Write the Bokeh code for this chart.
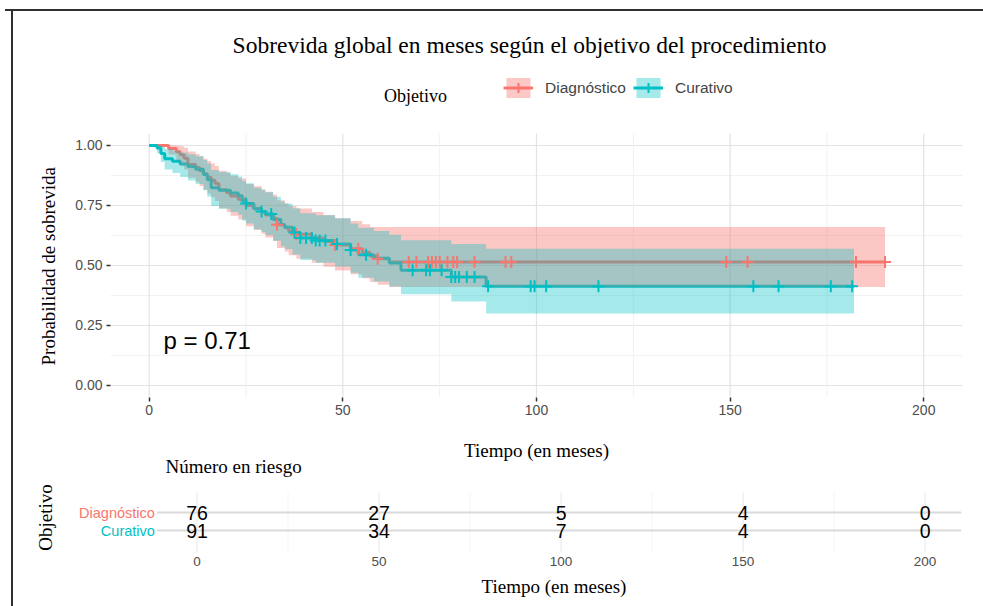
import numpy as np
from bokeh.plotting import figure
from bokeh.models import (Range1d, FixedTicker, PrintfTickFormatter, Label,
                          Legend, LegendItem, Title)
from bokeh.layouts import column
from bokeh.embed import file_html
from bokeh.resources import INLINE
from bokeh.core.properties import value

# ---------------- data ----------------
groups = ["Diagnóstico", "Curativo"]

# Diagnóstico: Kaplan-Meier step times / survival / 95% CI
time_diag = [0, 5, 7, 8, 9, 10, 12, 13, 14, 15, 16, 17, 18, 20, 21, 23, 25, 27, 29, 30,
             32, 33, 35, 36, 38, 42, 45, 48, 52, 55, 57, 59, 62]
surv_diag = [1.0, 0.987, 0.974, 0.961, 0.947, 0.921, 0.908, 0.895, 0.882, 0.868,
             0.855, 0.842, 0.816, 0.803, 0.789, 0.776, 0.750, 0.737, 0.723, 0.710,
             0.697, 0.670, 0.657, 0.643, 0.630, 0.615, 0.600, 0.585, 0.570, 0.555,
             0.540, 0.528, 0.515]
upper_diag = [1.0, 1.0, 1.0, 0.997, 0.99, 0.975, 0.965, 0.955, 0.945, 0.935,
              0.925, 0.915, 0.895, 0.885, 0.873, 0.862, 0.84, 0.83, 0.818, 0.807,
              0.795, 0.772, 0.76, 0.748, 0.737, 0.723, 0.71, 0.697, 0.685, 0.672,
              0.66, 0.66, 0.66]
lower_diag = [1.0, 0.962, 0.937, 0.918, 0.9, 0.866, 0.848, 0.831, 0.816, 0.8,
              0.784, 0.769, 0.738, 0.723, 0.707, 0.692, 0.663, 0.648, 0.632, 0.617,
              0.602, 0.573, 0.558, 0.543, 0.528, 0.511, 0.495, 0.479, 0.463, 0.447,
              0.431, 0.42, 0.41]
end_diag = 190
censor_diag = [33, 38, 48, 54, 59, 67, 69, 72, 73, 74, 75, 77, 78.5, 79.5, 84, 92,
               93.5, 149, 154.5, 182.5, 190]

# Curativo
time_cur = [0, 2, 3, 4, 6, 8, 10, 12, 14, 15, 16, 18, 21, 23, 24, 25, 27, 29, 30, 32,
            34, 35, 37, 39, 43, 48, 52, 54, 58, 62, 65, 78, 87]
surv_cur = [1.0, 0.989, 0.967, 0.945, 0.934, 0.923, 0.912, 0.901, 0.879, 0.857,
            0.824, 0.813, 0.802, 0.791, 0.769, 0.758, 0.736, 0.725, 0.714, 0.692,
            0.670, 0.659, 0.637, 0.615, 0.604, 0.590, 0.565, 0.545, 0.530, 0.510,
            0.480, 0.452, 0.413]
upper_cur = [1.0, 1.0, 0.995, 0.985, 0.978, 0.971, 0.963, 0.955, 0.94, 0.925,
             0.898, 0.889, 0.88, 0.871, 0.852, 0.843, 0.824, 0.815, 0.805, 0.786,
             0.767, 0.757, 0.738, 0.718, 0.709, 0.697, 0.675, 0.657, 0.644, 0.628,
             0.605, 0.59, 0.57]
lower_cur = [1.0, 0.968, 0.931, 0.9, 0.885, 0.869, 0.854, 0.84, 0.813, 0.787,
             0.748, 0.736, 0.723, 0.711, 0.687, 0.675, 0.651, 0.639, 0.627, 0.603,
             0.58, 0.569, 0.546, 0.523, 0.511, 0.496, 0.47, 0.449, 0.433, 0.412,
             0.38, 0.35, 0.30]
end_cur = 182
censor_cur = [25, 29, 31.5, 37.5, 39, 40.5, 42, 43, 44, 45.5, 48.5, 52, 56, 68, 71.5,
              72.5, 75.5, 78, 79, 80, 82, 84, 87.5, 98.5, 99.5, 102.5, 116, 156, 162.5,
              176, 181.5]

# number at risk table
risk_times = [0, 50, 100, 150, 200]
risk_diag = [76, 27, 5, 4, 0]
risk_cur = [91, 34, 7, 4, 0]
minor_times = [25, 75, 125, 175]

p_value_text = "p = 0.71"
y_ticks = [0, 0.25, 0.5, 0.75, 1.0]
y_minor = [0.125, 0.375, 0.625, 0.875]

# ---------------- styling ----------------
SANS = "Liberation Sans"
SERIF = "Liberation Serif"
RED = "#F8766D"
TEAL = "#00BFC4"
GRID = "#E3E3E3"
MINOR = "#F1F1F1"
AX_TITLE = "19px"
EDGE = "linear-gradient(#2F2F2F, #2F2F2F)"


def ext(t, v, end):
    return list(t) + [end], list(v) + [v[-1]]


def surv_at(t, s, times):
    idx = np.searchsorted(np.array(t), np.array(times), side="right") - 1
    return [s[i] for i in idx]


def prep(p):
    if "frame_align" in p.properties():
        p.frame_align = False
    p.outline_line_color = None
    p.background_fill_alpha = 0
    p.border_fill_alpha = 0


X0, X1 = -10, 210           # plotted time range
Y0, Y1 = -0.05, 1.05        # survival panel range
Y_TOP = 1.604               # headroom above the panel (title + legend area)

p1 = figure(width=983, height=430, x_range=Range1d(X0, X1), y_range=Range1d(Y0, Y_TOP),
            output_backend="svg", toolbar_location=None,
            min_border_left=110, min_border_right=21, min_border_top=0, min_border_bottom=33)
prep(p1)
# dark frame lines of the original screenshot (top and left), painted behind the canvas
p1.styles = {"background": (f"{EDGE} 5px 9px / 978px 2px no-repeat, "
                            f"{EDGE} 11px 9px / 2px 421px no-repeat, white")}
p1.xaxis.ticker = FixedTicker(ticks=risk_times, minor_ticks=minor_times)
p1.yaxis.ticker = FixedTicker(ticks=y_ticks, minor_ticks=y_minor)
p1.yaxis.formatter = PrintfTickFormatter(format="%.2f")
for ax in (p1.xaxis, p1.yaxis):
    ax.axis_line_color = None
    ax.major_tick_line_color = "#333333"
    ax.major_tick_line_width = 1.5
    ax.major_tick_out = 4
    ax.major_tick_in = 0
    ax.minor_tick_line_color = None
    ax.major_label_text_font = SANS
    ax.major_label_text_font_size = "14px"
    ax.major_label_text_color = "#4D4D4D"
p1.xaxis.major_label_standoff = 3
p1.yaxis.major_label_standoff = 4
p1.ygrid.grid_line_color = GRID
p1.ygrid.grid_line_width = 1.2
p1.ygrid.minor_grid_line_color = MINOR
p1.xgrid.visible = False
# vertical grid lines limited to the survival panel
p1.segment(x0=minor_times, y0=[Y0] * 4, x1=minor_times, y1=[Y1] * 4,
           line_color=MINOR, line_width=1)
p1.segment(x0=risk_times, y0=[Y0] * 5, x1=risk_times, y1=[Y1] * 5,
           line_color=GRID, line_width=1.2)

# lines first, then ribbons, then censor marks (ggsurvplot layer order)
xd, yd = ext(time_diag, surv_diag, end_diag)
xc, yc = ext(time_cur, surv_cur, end_cur)
_, ud = ext(time_diag, upper_diag, end_diag)
_, ld = ext(time_diag, lower_diag, end_diag)
_, uc = ext(time_cur, upper_cur, end_cur)
_, lc = ext(time_cur, lower_cur, end_cur)

line_d = p1.step(xd, yd, mode="after", line_color=RED, line_width=3)
line_c = p1.step(xc, yc, mode="after", line_color=TEAL, line_width=3)
band_d = p1.varea_step(x=xd, y1=ld, y2=ud, step_mode="after", fill_color=RED, fill_alpha=0.4)
band_c = p1.varea_step(x=xc, y1=lc, y2=uc, step_mode="after", fill_color=TEAL, fill_alpha=0.35)
cens_d = p1.scatter(censor_diag, surv_at(time_diag, surv_diag, censor_diag), marker="cross",
                    size=12, line_color=RED, line_width=2)
cens_c = p1.scatter(censor_cur, surv_at(time_cur, surv_cur, censor_cur), marker="cross",
                    size=12, line_color=TEAL, line_width=2)

legend = Legend(items=[LegendItem(label=groups[0], renderers=[band_d, line_d, cens_d]),
                       LegendItem(label=groups[1], renderers=[band_c, line_c, cens_c])],
                orientation="horizontal", location=(393, 297),
                background_fill_alpha=0, border_line_color=None,
                glyph_width=30, glyph_height=25, label_text_font=SANS,
                label_text_font_size="15.5px", label_standoff=12, spacing=7,
                padding=0, margin=0)
p1.add_layout(legend)

p1.add_layout(Label(x=98.2, y=1.417, text="Sobrevida global en meses según el objetivo del procedimiento",
                    text_align="center", text_baseline="middle", text_font=SERIF,
                    text_font_size="23.5px", text_color="black"))
p1.add_layout(Label(x=68.75, y=1.208, text="Objetivo", text_align="center",
                    text_baseline="middle", text_font=SERIF, text_font_size="18px",
                    text_color="black"))
p1.add_layout(Label(x=3.7, y=0.1875, text=p_value_text, text_align="left",
                    text_baseline="middle", text_font=SANS, text_font_size="24px",
                    text_color="black"))

p1.add_layout(Title(text="Probabilidad de sobrevida", align="left", offset=32,
                    standoff=27, text_font=SERIF, text_font_size=AX_TITLE,
                    text_font_style="normal", text_color="black"), "left")

# ---------------- risk table (its frame also holds the texts between the panels) ----------------
RX0 = -54.0
R_TOP = 6.556
R_GRID_TOP = 3.111
R_BOT = -0.222
p2 = figure(width=983, height=176, x_range=Range1d(RX0, X1), y_range=Range1d(R_BOT, R_TOP),
            output_backend="svg", toolbar_location=None,
            min_border_left=0, min_border_right=22, min_border_top=0, min_border_bottom=54)
prep(p2)
p2.styles = {"background": f"{EDGE} 11px 0px / 2px 176px no-repeat, white"}
p2.xaxis.ticker = FixedTicker(ticks=risk_times, minor_ticks=minor_times)
p2.yaxis.visible = False
p2.xaxis.axis_line_color = None
p2.xaxis.major_tick_line_color = None
p2.xaxis.minor_tick_line_color = None
p2.xaxis.major_label_text_font = SANS
p2.xaxis.major_label_text_font_size = "13.5px"
p2.xaxis.major_label_text_color = "#4D4D4D"
p2.xaxis.major_label_standoff = -2
p2.xgrid.visible = False
p2.ygrid.visible = False

p2.segment(x0=minor_times, y0=[R_BOT] * 4, x1=minor_times, y1=[R_GRID_TOP] * 4,
           line_color="#F4F4F4", line_width=1)
p2.segment(x0=risk_times, y0=[R_BOT] * 5, x1=risk_times, y1=[R_GRID_TOP] * 5,
           line_color="#EBEBEB", line_width=1.2)

rows = [2, 1]
p2.segment(x0=[-11, -11], y0=rows, x1=[X1, X1], y1=rows, line_color="#DADADA", line_width=2)

p2.text(x=risk_times, y=[rows[0]] * len(risk_times), text=[str(v) for v in risk_diag],
        text_font=value(SANS), text_font_size=value("19.5px"), text_align="center",
        text_baseline="middle", text_color="black")
p2.text(x=risk_times, y=[rows[1]] * len(risk_times), text=[str(v) for v in risk_cur],
        text_font=value(SANS), text_font_size=value("19.5px"), text_align="center",
        text_baseline="middle", text_color="black")

p2.add_layout(Label(x=-11.6, y=rows[0], text=groups[0], text_align="right",
                    text_baseline="middle", text_font=SANS, text_font_size="14.5px",
                    text_color=RED))
p2.add_layout(Label(x=-11.6, y=rows[1], text=groups[1], text_align="right",
                    text_baseline="middle", text_font=SANS, text_font_size="14.5px",
                    text_color=TEAL))
p2.add_layout(Label(x=-41.6, y=1.72, text="Objetivo", angle=np.pi / 2, text_align="center",
                    text_baseline="middle", text_font=SERIF, text_font_size=AX_TITLE,
                    text_color="black"))
p2.add_layout(Label(x=-8.67, y=4.556, text="Número en riesgo", text_align="left",
                    text_baseline="middle", text_font=SERIF, text_font_size=AX_TITLE,
                    text_color="black"))
# x-axis title of the survival panel (centred on that panel)
p2.add_layout(Label(x=93.25, y=5.444, text="Tiempo (en meses)", text_align="center",
                    text_baseline="middle", text_font=SERIF, text_font_size=AX_TITLE,
                    text_color="black"))
p2.add_layout(Title(text="Tiempo (en meses)", align="left", offset=481, standoff=11,
                    text_font=SERIF, text_font_size=AX_TITLE,
                    text_font_style="normal", text_color="black"), "below")

layout = column(p1, p2, spacing=0)
open("out.html", "w").write(file_html(layout, INLINE))
